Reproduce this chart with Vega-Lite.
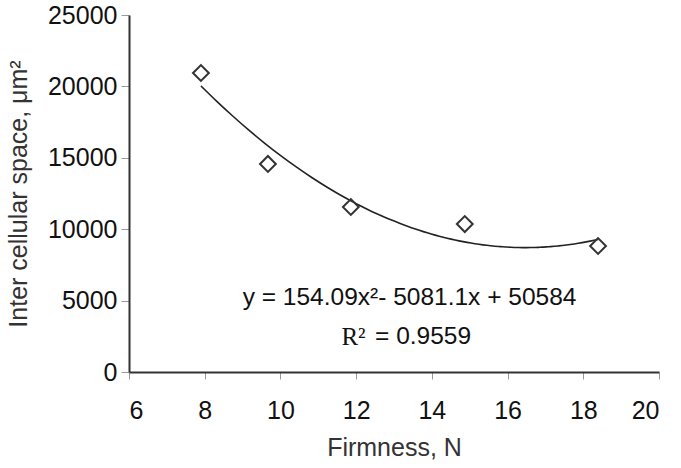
{
  "$schema": "https://vega.github.io/schema/vega-lite/v6.json",
  "width": 530,
  "height": 357,
  "autosize": {"type": "none"},
  "padding": {"left": 129, "top": 15, "right": 22, "bottom": 96},
  "background": "white",
  "config": {
    "view": {"stroke": null},
    "font": "Liberation Sans",
    "axis": {
      "grid": false,
      "domainColor": "#333333",
      "domainWidth": 2,
      "tickColor": "#999999",
      "tickWidth": 1,
      "labelFont": "Liberation Sans",
      "titleFont": "Liberation Sans",
      "labelFontSize": 25,
      "titleFontSize": 25,
      "labelColor": "#111111",
      "titleColor": "#333333",
      "titleFontWeight": "normal"
    }
  },
  "datasets": {
    "pts": [
      {"firmness": 7.9, "space": 20940},
      {"firmness": 9.67, "space": 14570},
      {"firmness": 11.86, "space": 11555},
      {"firmness": 14.87, "space": 10360},
      {"firmness": 18.39, "space": 8825}
    ]
  },
  "layer": [
    {
      "data": {"name": "pts"},
      "transform": [{"regression": "space", "on": "firmness", "method": "poly", "order": 2}],
      "mark": {"type": "line", "color": "#222222", "strokeWidth": 1.6, "interpolate": "monotone"},
      "encoding": {
        "x": {
          "field": "firmness", "type": "quantitative",
          "scale": {"domain": [6, 20], "nice": false, "zero": false},
          "axis": {"values": [6, 8, 10, 12, 14, 16, 18, 20], "format": "d", "tickSize": 7, "labelPadding": 19, "title": "Firmness, N", "titlePadding": 12}
        },
        "y": {
          "field": "space", "type": "quantitative",
          "scale": {"domain": [0, 25000], "nice": false},
          "axis": {"values": [0, 5000, 10000, 15000, 20000, 25000], "format": "d", "tickSize": 8, "labelPadding": 4, "title": "Inter cellular space, μm²", "titlePadding": 16}
        }
      }
    },
    {
      "data": {"name": "pts"},
      "mark": {"type": "point", "shape": "diamond", "filled": false, "size": 250, "stroke": "#333333", "strokeWidth": 2, "opacity": 1},
      "encoding": {
        "x": {"field": "firmness", "type": "quantitative"},
        "y": {"field": "space", "type": "quantitative"}
      }
    },
    {
      "data": {"values": [{"firmness": 13.41, "space": 5180, "label": "y = 154.09x²- 5081.1x + 50584"}]},
      "mark": {"type": "text", "font": "Liberation Sans", "fontSize": 24.5, "color": "#111111", "align": "center", "baseline": "middle"},
      "encoding": {
        "x": {"field": "firmness", "type": "quantitative"},
        "y": {"field": "space", "type": "quantitative"},
        "text": {"field": "label"}
      }
    },
    {
      "data": {"values": [{"firmness": 12.25, "space": 2450, "label": "R²"}]},
      "mark": {"type": "text", "font": "Liberation Serif", "fontSize": 25, "color": "#111111", "align": "right", "baseline": "middle"},
      "encoding": {
        "x": {"field": "firmness", "type": "quantitative"},
        "y": {"field": "space", "type": "quantitative"},
        "text": {"field": "label"}
      }
    },
    {
      "data": {"values": [{"firmness": 12.5, "space": 2450, "label": "= 0.9559"}]},
      "mark": {"type": "text", "font": "Liberation Sans", "fontSize": 24.5, "color": "#111111", "align": "left", "baseline": "middle"},
      "encoding": {
        "x": {"field": "firmness", "type": "quantitative"},
        "y": {"field": "space", "type": "quantitative"},
        "text": {"field": "label"}
      }
    }
  ]
}
